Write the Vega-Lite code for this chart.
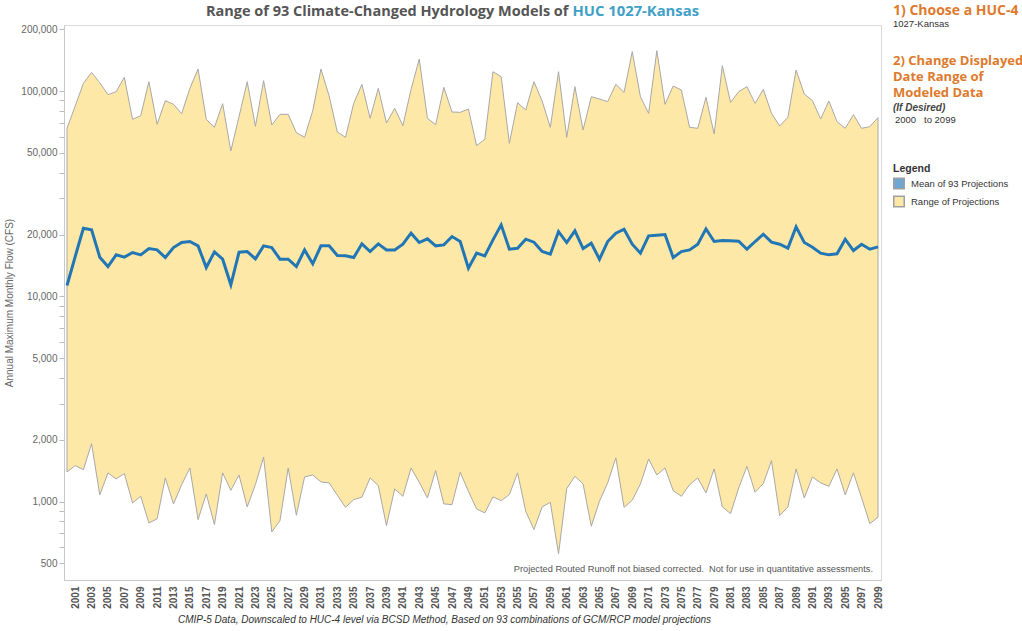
{
  "$schema": "https://vega.github.io/schema/vega-lite/v6.json",
  "width": 817,
  "height": 555,
  "autosize": {"type": "none"},
  "padding": {"left": 64, "top": 25, "right": 141, "bottom": 51},
  "background": "white",
  "config": {"view": {"stroke": "#d9d9d9"}, "font": "Liberation Sans"},
  "data": {"values": [
    {"year":2000,"min":1394,"max":65820,"mean":11290},
    {"year":2001,"min":1497,"max":84530,"mean":15620},
    {"year":2002,"min":1431,"max":108950,"mean":21460},
    {"year":2003,"min":1915,"max":123200,"mean":21070},
    {"year":2004,"min":1078,"max":109800,"mean":15510},
    {"year":2005,"min":1380,"max":95980,"mean":13970},
    {"year":2006,"min":1290,"max":99260,"mean":15920},
    {"year":2007,"min":1369,"max":116550,"mean":15510},
    {"year":2008,"min":985,"max":72810,"mean":16340},
    {"year":2009,"min":1061,"max":75860,"mean":15920},
    {"year":2010,"min":787,"max":111000,"mean":17090},
    {"year":2011,"min":824,"max":68820,"mean":16830},
    {"year":2012,"min":1304,"max":89760,"mean":15450},
    {"year":2013,"min":974,"max":86140,"mean":17280},
    {"year":2014,"min":1209,"max":77560,"mean":18280},
    {"year":2015,"min":1458,"max":103040,"mean":18490},
    {"year":2016,"min":817,"max":127960,"mean":17610},
    {"year":2017,"min":1090,"max":72810,"mean":13810},
    {"year":2018,"min":773,"max":66560,"mean":16460},
    {"year":2019,"min":1380,"max":86770,"mean":15160},
    {"year":2020,"min":1135,"max":51050,"mean":11380},
    {"year":2021,"min":1348,"max":75010,"mean":16400},
    {"year":2022,"min":942,"max":111000,"mean":16520},
    {"year":2023,"min":1209,"max":67300,"mean":15220},
    {"year":2024,"min":1649,"max":112280,"mean":17610},
    {"year":2025,"min":712,"max":68310,"mean":17280},
    {"year":2026,"min":808,"max":76990,"mean":15160},
    {"year":2027,"min":1458,"max":76990,"mean":15160},
    {"year":2028,"min":858,"max":62690,"mean":13970},
    {"year":2029,"min":1318,"max":59490,"mean":16830},
    {"year":2030,"min":1348,"max":80200,"mean":14390},
    {"year":2031,"min":1246,"max":127960,"mean":17610},
    {"year":2032,"min":1233,"max":94550,"mean":17610},
    {"year":2033,"min":1074,"max":63170,"mean":15800},
    {"year":2034,"min":938,"max":59490,"mean":15740},
    {"year":2035,"min":1023,"max":87100,"mean":15450},
    {"year":2036,"min":1050,"max":107750,"mean":18010},
    {"year":2037,"min":1304,"max":73620,"mean":16520},
    {"year":2038,"min":1196,"max":103040,"mean":18010},
    {"year":2039,"min":764,"max":69870,"mean":16830},
    {"year":2040,"min":1152,"max":82340,"mean":16830},
    {"year":2041,"min":1061,"max":67810,"mean":17940},
    {"year":2042,"min":1458,"max":101880,"mean":20300},
    {"year":2043,"min":1242,"max":143100,"mean":18280},
    {"year":2044,"min":1042,"max":73620,"mean":19050},
    {"year":2045,"min":1416,"max":68560,"mean":17610},
    {"year":2046,"min":974,"max":104200,"mean":17800},
    {"year":2047,"min":967,"max":79030,"mean":19550},
    {"year":2048,"min":1389,"max":78740,"mean":18490},
    {"year":2049,"min":1123,"max":81740,"mean":13710},
    {"year":2050,"min":921,"max":54200,"mean":16220},
    {"year":2051,"min":881,"max":58170,"mean":15740},
    {"year":2052,"min":1054,"max":124200,"mean":18840},
    {"year":2053,"min":1011,"max":117400,"mean":22280},
    {"year":2054,"min":1082,"max":55620,"mean":16960},
    {"year":2055,"min":1380,"max":87730,"mean":17150},
    {"year":2056,"min":897,"max":80830,"mean":18980},
    {"year":2057,"min":731,"max":111000,"mean":18350},
    {"year":2058,"min":942,"max":89400,"mean":16520},
    {"year":2059,"min":992,"max":66560,"mean":16040},
    {"year":2060,"min":556,"max":124200,"mean":20680},
    {"year":2061,"min":1157,"max":59490,"mean":18280},
    {"year":2062,"min":1328,"max":104980,"mean":20840},
    {"year":2063,"min":1219,"max":64600,"mean":17090},
    {"year":2064,"min":759,"max":93850,"mean":18140},
    {"year":2065,"min":1004,"max":91430,"mean":15160},
    {"year":2066,"min":1233,"max":88740,"mean":18490},
    {"year":2067,"min":1632,"max":107750,"mean":20300},
    {"year":2068,"min":938,"max":98520,"mean":21230},
    {"year":2069,"min":1015,"max":155400,"mean":17940},
    {"year":2070,"min":1219,"max":93850,"mean":16220},
    {"year":2071,"min":1613,"max":77850,"mean":19700},
    {"year":2072,"min":1348,"max":157200,"mean":19850},
    {"year":2073,"min":1458,"max":86140,"mean":20000},
    {"year":2074,"min":1131,"max":105760,"mean":15450},
    {"year":2075,"min":1061,"max":101130,"mean":16520},
    {"year":2076,"min":1209,"max":66560,"mean":16830},
    {"year":2077,"min":1304,"max":65820,"mean":17940},
    {"year":2078,"min":1102,"max":93150,"mean":21310},
    {"year":2079,"min":1442,"max":61760,"mean":18490},
    {"year":2080,"min":942,"max":132830,"mean":18700},
    {"year":2081,"min":874,"max":88060,"mean":18630},
    {"year":2082,"min":1166,"max":99260,"mean":18560},
    {"year":2083,"min":1485,"max":104980,"mean":16960},
    {"year":2084,"min":1110,"max":87100,"mean":18490},
    {"year":2085,"min":1224,"max":101880,"mean":20070},
    {"year":2086,"min":1583,"max":77850,"mean":18350},
    {"year":2087,"min":855,"max":67550,"mean":17940},
    {"year":2088,"min":942,"max":74450,"mean":17150},
    {"year":2089,"min":1442,"max":126530,"mean":21790},
    {"year":2090,"min":1042,"max":96690,"mean":18280},
    {"year":2091,"min":1318,"max":89760,"mean":17340},
    {"year":2092,"min":1233,"max":73090,"mean":16220},
    {"year":2093,"min":1187,"max":89400,"mean":15920},
    {"year":2094,"min":1442,"max":70920,"mean":16100},
    {"year":2095,"min":1078,"max":65820,"mean":18980},
    {"year":2096,"min":1380,"max":76700,"mean":16710},
    {"year":2097,"min":1042,"max":65820,"mean":17940},
    {"year":2098,"min":781,"max":67060,"mean":16960},
    {"year":2099,"min":839,"max":74170,"mean":17410}
  ]},
  "layer": [
    {
      "data": {"values": [{"s": "Mean of 93 Projections"}, {"s": "Range of Projections"}]},
      "mark": {"type": "square", "opacity": 1, "stroke": "#a0a0a0", "strokeWidth": 1, "size": 100},
      "encoding": {
        "x": {
          "datum": 2050, "type": "quantitative",
          "scale": {"domain": [1999.634, 2099.366], "nice": false, "zero": false},
          "axis": {
            "values": [2001,2003,2005,2007,2009,2011,2013,2015,2017,2019,2021,2023,2025,2027,2029,2031,2033,2035,2037,2039,2041,2043,2045,2047,2049,2051,2053,2055,2057,2059,2061,2063,2065,2067,2069,2071,2073,2075,2077,2079,2081,2083,2085,2087,2089,2091,2093,2095,2097,2099],
            "tickCount": 200,
            "format": "d", "labelAngle": -90, "labelAlign": "right", "labelBaseline": "middle",
            "labelFontWeight": "bold", "labelColor": "#555", "labelFontSize": 10,
            "ticks": false, "labelPadding": 6, "domainColor": "#c8c8c8", "grid": false,
            "labelOverlap": false, "labelBound": false, "labelFlush": false,
            "title": "CMIP-5 Data, Downscaled to HUC-4 level via BCSD Method, Based on 93 combinations of GCM/RCP model projections",
            "titleFontStyle": "italic", "titleFontWeight": "normal", "titleFontSize": 10, "titleColor": "#333",
            "titleX": 380, "titleY": 39, "titleBaseline": "middle"
          }
        },
        "y": {
          "datum": 5000, "type": "quantitative",
          "scale": {"type": "log", "domain": [415, 209700], "nice": false},
          "axis": {
            "values": [500,600,700,800,900,1000,2000,3000,4000,5000,6000,7000,8000,9000,10000,20000,30000,40000,50000,60000,70000,80000,90000,100000,200000],
            "tickCount": 200,
            "labelExpr": "indexof([500,1000,2000,5000,10000,20000,50000,100000,200000], datum.value) >= 0 ? format(datum.value, ',') : ''",
            "labelOverlap": false, "grid": false, "tickSize": 5, "tickColor": "#bbb", "domainColor": "#c8c8c8",
            "labelColor": "#666", "labelFontSize": 10, "labelPadding": 2,
            "title": "Annual Maximum Monthly Flow (CFS)", "titleFontWeight": "normal", "titleColor": "#666",
            "titleFontSize": 10, "titlePadding": 6
          }
        },
        "color": {
          "field": "s", "type": "nominal",
          "scale": {"domain": ["Mean of 93 Projections", "Range of Projections"], "range": ["#6fa6d4", "#fee8a7"]},
          "legend": {
            "title": "Legend", "orient": "none", "legendX": 829, "legendY": 139,
            "titleFont": "Liberation Sans", "titleFontSize": 10.5, "titleFontWeight": "bold", "titleColor": "#333",
            "labelFont": "Liberation Sans", "labelFontSize": 9.5, "labelColor": "#333",
            "symbolType": "square", "symbolSize": 110, "rowPadding": 0, "labelOffset": 6, "titlePadding": 3
          }
        }
      }
    },
    {
      "mark": {"type": "area", "fill": "#fee8a7", "fillOpacity": 1, "stroke": "#a8a8a8", "strokeWidth": 1},
      "encoding": {
        "x": {"field": "year", "type": "quantitative"},
        "y": {"field": "max", "type": "quantitative"},
        "y2": {"field": "min"}
      }
    },
    {
      "mark": {"type": "line", "color": "#2177b6", "strokeWidth": 3},
      "encoding": {
        "x": {"field": "year", "type": "quantitative"},
        "y": {"field": "mean", "type": "quantitative"}
      }
    },
    {
      "data": {"values": [{}]},
      "mark": {"type": "text", "text": "Range of 93 Climate-Changed Hydrology Models of", "font": "Open Sans", "fontSize": 14.5, "fontWeight": "bold", "color": "#555", "align": "right", "baseline": "middle", "dx": -2},
      "encoding": {"x": {"datum": 2061.46, "type": "quantitative"}, "y": {"datum": 242600, "type": "quantitative"}}
    },
    {
      "data": {"values": [{}]},
      "mark": {"type": "text", "text": "HUC 1027-Kansas", "font": "Open Sans", "fontSize": 14.8, "fontWeight": "bold", "color": "#3fa0c8", "align": "left", "baseline": "middle", "dx": 2},
      "encoding": {"x": {"datum": 2061.46, "type": "quantitative"}, "y": {"datum": 242600, "type": "quantitative"}}
    },
    {
      "data": {"values": [{}]},
      "mark": {"type": "text", "text": "1) Choose a HUC-4", "font": "Open Sans", "fontSize": 14, "fontWeight": "bold", "color": "#de7a2c", "align": "left", "baseline": "middle"},
      "encoding": {"x": {"datum": 2100.83, "type": "quantitative"}, "y": {"datum": 245300, "type": "quantitative"}}
    },
    {
      "data": {"values": [{}]},
      "mark": {"type": "text", "text": "1027-Kansas", "font": "Liberation Sans", "fontSize": 9.5, "color": "#333", "align": "left", "baseline": "middle"},
      "encoding": {"x": {"datum": 2100.83, "type": "quantitative"}, "y": {"datum": 212100, "type": "quantitative"}}
    },
    {
      "data": {"values": [{}]},
      "mark": {"type": "text", "text": ["2) Change Displayed", "Date Range of", "Modeled Data"], "lineHeight": 16, "font": "Open Sans", "fontSize": 13, "fontWeight": "bold", "color": "#de7a2c", "align": "left", "baseline": "top"},
      "encoding": {"x": {"datum": 2100.83, "type": "quantitative"}, "y": {"datum": 149000, "type": "quantitative"}}
    },
    {
      "data": {"values": [{}]},
      "mark": {"type": "text", "text": "(If Desired)", "font": "Liberation Sans", "fontSize": 10, "fontWeight": "bold", "fontStyle": "italic", "color": "#444", "align": "left", "baseline": "middle"},
      "encoding": {"x": {"datum": 2100.83, "type": "quantitative"}, "y": {"datum": 82700, "type": "quantitative"}}
    },
    {
      "data": {"values": [{}]},
      "mark": {"type": "text", "text": "2000\u00a0\u00a0 to 2099", "font": "Liberation Sans", "fontSize": 9.5, "color": "#333", "align": "left", "baseline": "middle"},
      "encoding": {"x": {"datum": 2101.07, "type": "quantitative"}, "y": {"datum": 72200, "type": "quantitative"}}
    },
    {
      "data": {"values": [{}]},
      "mark": {"type": "text", "text": "Projected Routed Runoff not biased corrected.\u00a0 Not for use in quantitative assessments.", "font": "Liberation Sans", "fontSize": 9.25, "color": "#555", "align": "right", "baseline": "middle"},
      "encoding": {"x": {"datum": 2098.39, "type": "quantitative"}, "y": {"datum": 469.6, "type": "quantitative"}}
    }
  ]
}
